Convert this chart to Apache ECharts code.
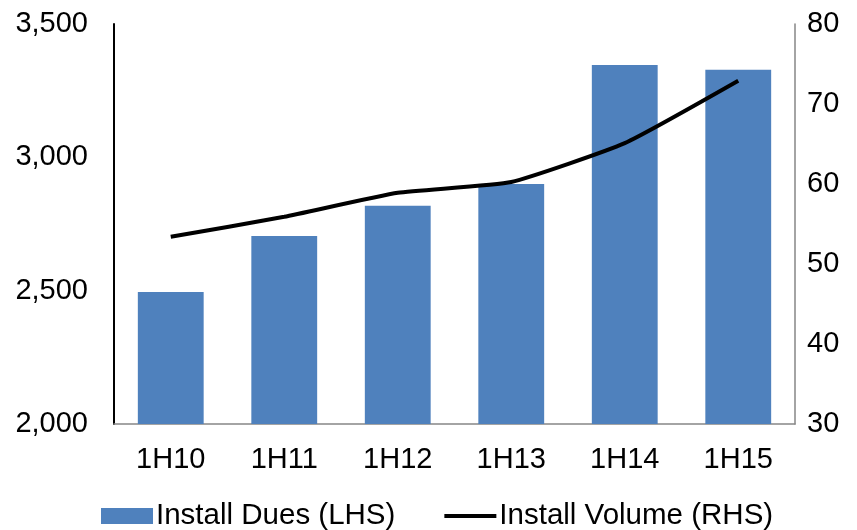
<!DOCTYPE html>
<html><head><meta charset="utf-8">
<script src="https://cdn.jsdelivr.net/npm/echarts@6/dist/echarts.min.js"></script>
<style>html,body{margin:0;padding:0;background:#fff}#c{width:857px;height:530px}</style>
</head><body><div id="c"></div>
<script>
const categories = ['1H10','1H11','1H12','1H13','1H14','1H15'];
const installDues = [2495, 2705, 2818, 2900, 3346, 3328];
const installVolume = [53.4, 55.9, 58.9, 60.25, 65.1, 72.9];
const leftTicks = [2000, 2500, 3000, 3500];
const rightTicks = [30, 40, 50, 60, 70, 80];

const font = 'Liberation Sans';
const fs = 29;
const chart = echarts.init(document.getElementById('c'), null, {renderer:'canvas'});
chart.setOption({
  animation: false,
  grid: {left: 114, right: 62, top: 24, bottom: 106},
  legend: {
    top: 496, left: 96,
    itemWidth: 52, itemHeight: 16, itemGap: 47,
    textStyle: {fontFamily: font, fontSize: 29.5, color: '#000', padding: [0,0,0,-2]},
    data: [
      {name: 'Install Dues (LHS)', icon: 'rect'},
      {name: 'Install Volume (RHS)', itemStyle: {color: 'rgba(0,0,0,0)', borderWidth: 0}, lineStyle: {color: '#000', width: 4}}
    ]
  },
  xAxis: {
    type: 'category', data: categories,
    axisLine: {lineStyle: {color: '#868686', width: 1.5}},
    axisTick: {show: false},
    axisLabel: {fontFamily: font, fontSize: fs, color: '#000', margin: 21}
  },
  yAxis: [
    {type: 'value', min: leftTicks[0], max: leftTicks[leftTicks.length-1], interval: 500,
     axisLine: {show: true, lineStyle: {color: '#000', width: 2}},
     axisTick: {show: false}, splitLine: {show: false},
     axisLabel: {fontFamily: font, fontSize: fs, color: '#000', margin: 26,
       formatter: v => v.toLocaleString('en-US')}},
    {type: 'value', position: 'right', min: rightTicks[0], max: rightTicks[rightTicks.length-1], interval: 10,
     axisLine: {show: true, lineStyle: {color: '#868686', width: 1.5}},
     axisTick: {show: false}, splitLine: {show: false},
     axisLabel: {fontFamily: font, fontSize: fs, color: '#000', margin: 12}}
  ],
  series: [
    {name: 'Install Dues (LHS)', type: 'bar', data: installDues, yAxisIndex: 0,
     barWidth: '58%', itemStyle: {color: '#4F81BD'}},
    {name: 'Install Volume (RHS)', type: 'line', data: installVolume, yAxisIndex: 1,
     symbol: 'none', smooth: 0.15, lineStyle: {color: '#000', width: 4}, itemStyle: {color: '#000'}}
  ]
});
</script></body></html>
